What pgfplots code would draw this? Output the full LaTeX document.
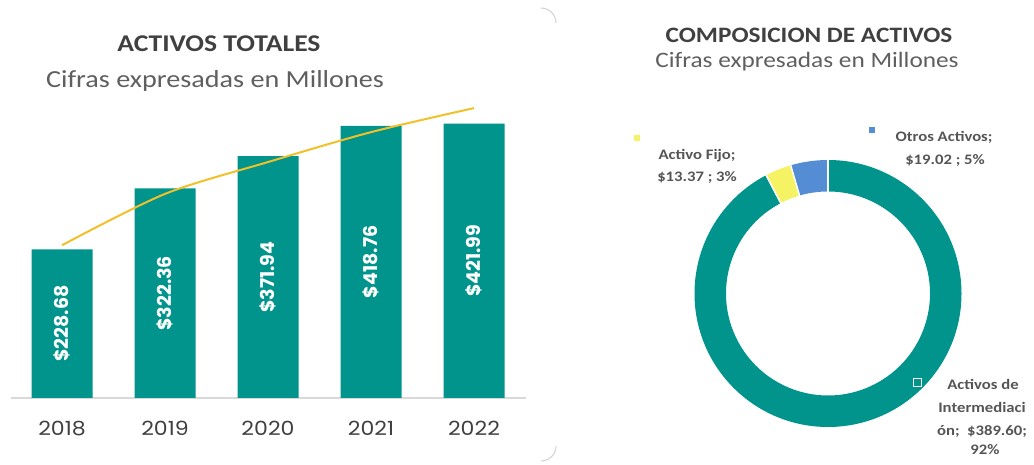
\documentclass[border=0pt]{standalone}
\usepackage{pgfplots}
\pgfplotsset{compat=1.18}
\usepackage{pgfplotstable}
\usepackage{fontspec}
\setmainfont[FakeStretch=1.15]{Carlito}
\newfontfamily\gothic{Poppins}
\newfontfamily\gothicw[FakeStretch=1.13]{Poppins}
\definecolor{tealbar}{RGB}{0,148,140}
\definecolor{trend}{RGB}{242,192,40}
\definecolor{fijo}{RGB}{245,243,100}
\definecolor{otros}{RGB}{84,141,212}
\definecolor{txtdark}{RGB}{64,64,64}
\definecolor{txtgray}{RGB}{95,95,95}
\definecolor{lbl}{RGB}{85,85,85}

\pgfplotstableread{
x year v
0 2018 228.68
1 2019 322.36
2 2020 371.94
3 2021 418.76
4 2022 421.99
}\bars
\pgfplotstableread{
x t
0 235
1 314
2 363
3 409
4 446
}\trendtab
\pgfplotstableread{
part value
Intermediacion 389.60
Fijo 13.37
Otros 19.02
}\donut

\pgfplotstablegetelem{0}{value}\of\donut \let\va\pgfplotsretval
\pgfplotstablegetelem{1}{value}\of\donut \let\vb\pgfplotsretval
\pgfplotstablegetelem{2}{value}\of\donut \let\vc\pgfplotsretval
\pgfmathsetmacro\tot{\va+\vb+\vc}
\pgfmathsetmacro\aA{90}
\pgfmathsetmacro\aB{90-360*(\va/\tot)}
\pgfmathsetmacro\aC{\aB-360*(\vb/\tot)}
\pgfmathsetmacro\aD{\aC-360*(\vc/\tot)}

\begin{document}
\begin{tikzpicture}
\path[use as bounding box] (0,0) rectangle (1034pt,465pt);

% faint corner arcs between the two panels
\draw[black!18, line width=1pt] (541pt,457pt) arc[start angle=90, end angle=0, radius=15pt];
\draw[black!18, line width=1pt] (556pt,19pt) arc[start angle=0, end angle=-90, radius=15pt];

% ---------- left: bar chart ----------
\begin{axis}[
  at={(10.5pt,67pt)}, anchor=south west,
  scale only axis, width=515pt, height=299pt,
  xmin=-0.5, xmax=4.5, ymin=0, ymax=460,
  axis y line=none, axis x line*=bottom,
  x axis line style={draw=black!15, line width=1.3pt, -},
  xtick={0,1,2,3,4}, xticklabels={2018,2019,2020,2021,2022},
  xtick style={draw=none},
  xticklabel style={font=\gothicw\fontsize{19.5}{19.5}\selectfont, text=txtdark, anchor=base, yshift=-38pt},
  clip=false,
]
\addplot[ybar, bar width=61pt, fill=tealbar, draw=none] table[x=x,y=v]{\bars};
\addplot[trend, line width=2pt, smooth, mark=none] table[x=x,y=t]{\trendtab};
\addplot[only marks, mark=*, mark size=0pt, mark options={draw=none,fill=none},
  point meta=explicit symbolic,
  nodes near coords={\$\pgfplotspointmeta},
  every node near coord/.append style={anchor=center, rotate=90, text=white,
     font=\gothic\bfseries\fontsize{19}{19}\selectfont}]
  table[x=x, y expr=\thisrow{v}/2, meta=v]{\bars};
\end{axis}

\node[anchor=base, text=txtdark, font=\bfseries\fontsize{24}{24}\selectfont] at (219pt,413pt) {ACTIVOS TOTALES};
\node[anchor=base, text=txtgray, font=\fontsize{24.5}{24.5}\selectfont] at (215pt,377pt) {Cifras expresadas en Millones};

% ---------- right: donut ----------
\begin{axis}[
  at={(694.5pt,38pt)}, anchor=south west,
  scale only axis, width=267pt, height=267pt,
  xmin=-133.5, xmax=133.5, ymin=-133.5, ymax=133.5,
  hide axis, clip=false,
]
\fill[tealbar] (axis cs:0,0) ++(\aA:133.5pt) arc[start angle=\aA, end angle=\aB, radius=133.5pt] -- ++(\aB:-31.5pt) arc[start angle=\aB, end angle=\aA, radius=102pt] -- cycle;
\fill[fijo] (axis cs:0,0) ++(\aB:133.5pt) arc[start angle=\aB, end angle=\aC, radius=133.5pt] -- ++(\aC:-31.5pt) arc[start angle=\aC, end angle=\aB, radius=102pt] -- cycle;
\fill[otros] (axis cs:0,0) ++(\aC:133.5pt) arc[start angle=\aC, end angle=\aD, radius=133.5pt] -- ++(\aD:-31.5pt) arc[start angle=\aD, end angle=\aC, radius=102pt] -- cycle;
\draw[white, line width=1.5pt] (axis cs:0,0) ++(\aA:100pt) -- ++(\aA:36pt);
\draw[white, line width=1.5pt] (axis cs:0,0) ++(\aB:100pt) -- ++(\aB:36pt);
\draw[white, line width=1.5pt] (axis cs:0,0) ++(\aC:100pt) -- ++(\aC:36pt);
\end{axis}

\node[anchor=base, text=txtdark, font=\bfseries\fontsize{22}{22}\selectfont] at (809pt,422pt) {COMPOSICION DE ACTIVOS};
\node[anchor=base, text=txtgray, font=\fontsize{22}{22}\selectfont] at (807pt,397pt) {Cifras expresadas en Millones};

% donut labels
\begin{scope}[every node/.style={anchor=base, text=lbl, font=\bfseries\fontsize{14.5}{14.5}\selectfont, inner sep=0pt}]
\node at (697pt,305pt) {Activo Fijo;};
\node at (697pt,283pt) {\$13.37 ; 3\%};
\node at (944pt,323pt) {Otros Activos;};
\node at (945pt,300pt) {\$19.02 ; 5\%};
\node at (983pt,75pt) {Activos de};
\node at (982pt,52pt) {Intermediaci};
\node at (982pt,29pt) {ón;\ \ \$389.60;};
\node at (985pt,10pt) {92\%};
\end{scope}
\fill[fijo] (634pt,324pt) rectangle ++(6pt,6pt);
\fill[otros] (869pt,332pt) rectangle ++(6pt,6pt);
\filldraw[fill=tealbar, draw=white, line width=1pt] (913pt,78pt) rectangle ++(8pt,8pt);
\end{tikzpicture}
\end{document}
